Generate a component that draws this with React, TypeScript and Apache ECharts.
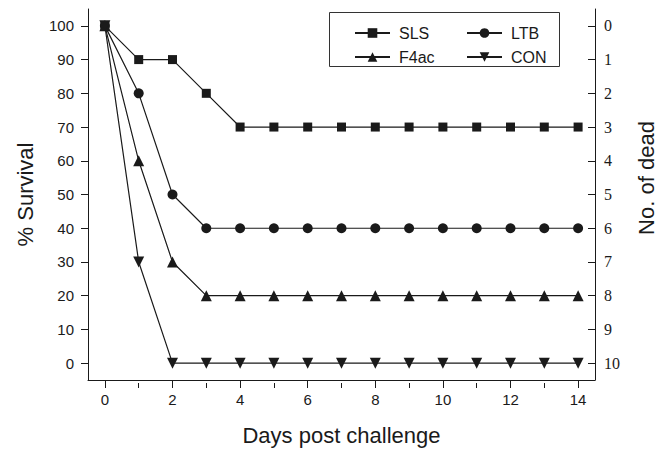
import React, { useEffect, useRef } from "react";
import * as echarts from "echarts";

const days = [0, 1, 2, 3, 4, 5, 6, 7, 8, 9, 10, 11, 12, 13, 14];
const sls = [100, 90, 90, 80, 70, 70, 70, 70, 70, 70, 70, 70, 70, 70, 70];
const ltb = [100, 80, 50, 40, 40, 40, 40, 40, 40, 40, 40, 40, 40, 40, 40];
const f4ac = [100, 60, 30, 20, 20, 20, 20, 20, 20, 20, 20, 20, 20, 20, 20];
const con = [100, 30, 0, 0, 0, 0, 0, 0, 0, 0, 0, 0, 0, 0, 0];
const survivalTicks = [0, 10, 20, 30, 40, 50, 60, 70, 80, 90, 100];
const deadTicks = [0, 1, 2, 3, 4, 5, 6, 7, 8, 9, 10];
const dayLabels = [0, 2, 4, 6, 8, 10, 12, 14];
const oddDays = [1, 3, 5, 7, 9, 11, 13];

const INK = "#1a1a1a";
const SANS = "Liberation Sans, Arial, Helvetica, sans-serif";
const SERIF = "Liberation Serif, Times New Roman, serif";

export default function App() {
  const ref = useRef<HTMLDivElement>(null);
  useEffect(() => {
    if (!ref.current) return;
    const chart = echarts.init(ref.current, undefined, { renderer: "svg" });
    const mk = (name: string, vals: number[], symbol: string, size: number, rotate = 0) => ({
      name,
      type: "line",
      xAxisIndex: 0,
      yAxisIndex: 0,
      data: days.map((d, i) => [d, vals[i]]),
      symbol,
      symbolSize: size,
      symbolRotate: rotate,
      showSymbol: true,
      lineStyle: { color: INK, width: 1.2 },
      itemStyle: { color: INK, borderWidth: 0 },
      z: 3,
    });
    const legendCommon = {
      orient: "vertical",
      itemWidth: 35,
      itemHeight: 12,
      itemGap: 8,
      textStyle: { fontFamily: SANS, fontSize: 16, color: INK, padding: [0, 0, 0, 4] },
      selectedMode: false,
    };
    chart.setOption({
      animation: false,
      backgroundColor: "#fff",
      grid: { left: 88, right: 65, top: 9, bottom: 68 },
      xAxis: [
        {
          type: "value",
          min: -0.5,
          max: 14.5,
          position: "bottom",
          axisLine: { onZero: false, lineStyle: { color: INK, width: 1 } },
          axisTick: { customValues: dayLabels, length: 8, lineStyle: { color: INK } },
          axisLabel: { customValues: dayLabels, fontFamily: SANS, fontSize: 15, color: INK, margin: 12 },
          splitLine: { show: false },
          name: "Days post challenge",
          nameLocation: "middle",
          nameGap: 44,
          nameTextStyle: { fontFamily: SANS, fontSize: 22, color: INK },
        },
        {
          type: "value",
          min: -0.5,
          max: 14.5,
          position: "top",
          offset: -374,
          axisLine: { show: false, onZero: false },
          axisTick: { customValues: oddDays, length: 5, inside: true, lineStyle: { color: INK } },
          axisLabel: { show: false },
          splitLine: { show: false },
        },
      ],
      yAxis: [
        {
          type: "value",
          min: -5,
          max: 105,
          position: "left",
          axisLine: { show: true, onZero: false, lineStyle: { color: INK, width: 1 } },
          axisTick: { show: true, customValues: survivalTicks, length: 7, lineStyle: { color: INK } },
          axisLabel: { customValues: survivalTicks, fontFamily: SANS, fontSize: 15, color: INK, margin: 14 },
          splitLine: { show: false },
          name: "% Survival",
          nameLocation: "middle",
          nameGap: 52,
          nameRotate: 90,
          nameTextStyle: { fontFamily: SANS, fontSize: 22, color: INK },
        },
        {
          type: "value",
          min: -0.5,
          max: 10.5,
          inverse: true,
          position: "right",
          axisLine: { show: true, onZero: false, lineStyle: { color: INK, width: 1 } },
          axisTick: { show: true, inside: true, customValues: deadTicks, length: 7, lineStyle: { color: INK } },
          axisLabel: { customValues: deadTicks, fontFamily: SERIF, fontSize: 16, color: INK, margin: 9 },
          splitLine: { show: false },
        },
      ],
      legend: [
        { ...legendCommon, data: ["SLS", "F4ac"], left: 349, top: 20 },
        { ...legendCommon, data: ["LTB", "CON"], left: 461, top: 20 },
      ],
      graphic: [
        {
          type: "rect",
          shape: { x: 329.5, y: 12.5, width: 230, height: 54 },
          style: { fill: "transparent", stroke: "#333", lineWidth: 1 },
          z: 10,
        },
        {
          type: "text",
          x: 646,
          y: 178,
          rotation: Math.PI / 2,
          style: {
            text: "No. of dead",
            fontFamily: SANS,
            fontSize: 22,
            fill: INK,
            textAlign: "center",
            textVerticalAlign: "middle",
          },
        },
      ],
      series: [
        mk("SLS", sls, "rect", 9),
        mk("LTB", ltb, "circle", 10),
        mk("F4ac", f4ac, "triangle", 11),
        mk("CON", con, "triangle", 11, 180),
      ],
    });
    return () => chart.dispose();
  }, []);
  return (
    <div
      ref={ref}
      style={{ position: "fixed", left: 0, top: 0, width: 660, height: 451, background: "#fff" }}
    />
  );
}
